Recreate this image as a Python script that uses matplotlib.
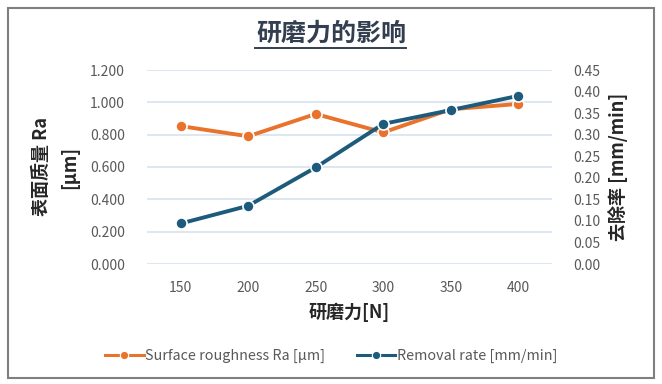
import matplotlib.pyplot as plt
import matplotlib.patches as patches

plt.rcParams['font.family'] = ['Noto Sans CJK SC', 'DejaVu Sans']

# data
force = ['150', '200', '250', '300', '350', '400']
roughness = [0.853, 0.790, 0.928, 0.814, 0.957, 0.990]
removal = [0.094, 0.135, 0.224, 0.325, 0.357, 0.390]

orange = '#E9732C'
blue = '#1C5B7B'
tick_col = '#595959'
label_col = '#262626'

fig = plt.figure(figsize=(6.62, 3.84), dpi=100)
fig.patches.append(patches.Rectangle((8 / 662, 6 / 384), 646 / 662, 370 / 384,
                                     transform=fig.transFigure, fill=False,
                                     edgecolor='#7F7F7F', linewidth=1.5))

ax = fig.add_axes([147 / 662, 1 - 264 / 384, 405 / 662, 194 / 384])
ax2 = ax.twinx()

x = range(len(force))
l1, = ax.plot(x, roughness, color=orange, lw=2.8, marker='o', ms=8,
              mec='white', mew=1.2, zorder=3)
l2, = ax2.plot(x, removal, color=blue, lw=2.8, marker='o', ms=8,
               mec='white', mew=1.2, zorder=3)

ax.set_xlim(-0.5, 5.5)
ax.set_ylim(0, 1.2)
ax.set_yticks([i * 0.2 for i in range(7)])
ax.set_yticklabels([f'{i * 0.2:.3f}' for i in range(7)])
ax2.set_ylim(0, 0.45)
ax2.set_yticks([i * 0.05 for i in range(10)])
ax2.set_yticklabels([f'{i * 0.05:.2f}' for i in range(10)])
ax.set_xticks(list(x))
ax.set_xticklabels(force)

ax.grid(axis='y', color='#D5E3EF', lw=1.2)
ax.set_axisbelow(True)
for a in (ax, ax2):
    for s in a.spines.values():
        s.set_visible(False)
    a.tick_params(length=0, labelsize=10, colors=tick_col)
ax.tick_params(axis='y', pad=16)
ax2.tick_params(axis='y', pad=15)
ax.tick_params(axis='x', pad=12)

ax.set_ylabel('表面质量 Ra\n[μm]', fontsize=13, fontweight='bold',
              color=label_col, labelpad=8, linespacing=1.6)
ax2.set_ylabel('去除率 [mm/min]', fontsize=13, fontweight='bold',
               color=label_col, labelpad=6)
ax.set_xlabel('研磨力[N]', fontsize=13, fontweight='bold', color=label_col,
              labelpad=6)

fig.text(0.5, 1 - 34 / 384, '研磨力的影响', ha='center', va='center',
         fontsize=18, fontweight='bold', color='#333F50')
fig.add_artist(plt.Line2D([255 / 662, 406 / 662], [1 - 48 / 384, 1 - 48 / 384],
                          color='#333F50', lw=1.4, transform=fig.transFigure))

# legend handles drawn thinner than the plotted lines, as in the reference
h1 = plt.Line2D([], [], color=orange, lw=2.2, marker='o', ms=6,
                mec='white', mew=0.8)
h2 = plt.Line2D([], [], color=blue, lw=2.2, marker='o', ms=6,
                mec='white', mew=0.8)
fig.legend(handles=[h1, h2],
           labels=['Surface roughness Ra [μm]', 'Removal rate [mm/min]'],
           loc='center', bbox_to_anchor=(0.5, 1 - 356 / 384),
           ncol=2, frameon=False, fontsize=10.3, numpoints=1, handlelength=2.7,
           handletextpad=0.1, columnspacing=2.2, labelcolor=tick_col)

fig.savefig('out.png', dpi=100)
